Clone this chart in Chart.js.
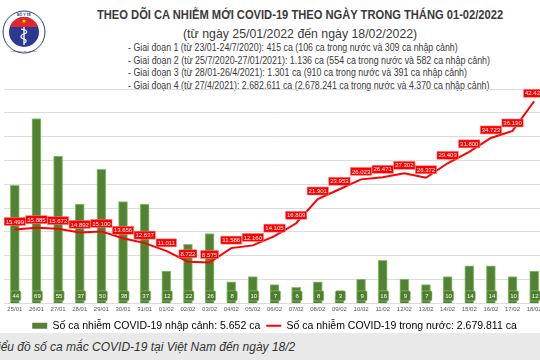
<!DOCTYPE html>
<html>
<head>
<meta charset="utf-8">
<script src="https://cdn.jsdelivr.net/npm/chart.js@4.4.0/dist/chart.umd.min.js"></script>
<style>
html, body { margin: 0; padding: 0; width: 540px; height: 360px; overflow: hidden; background: #fff; font-family: "Liberation Sans", Arial, sans-serif; }
.t { position: absolute; white-space: nowrap; transform-origin: 0 50%; color: #3a3a3a; line-height: 1; }
#cap { position: absolute; left: 0; top: 333px; width: 540px; height: 27px; background: #e9e9e9; }
#wrap { position: absolute; left: -5px; top: 82px; width: 550px; height: 259px; }
#logo { position: absolute; left: 2px; top: 10px; }
</style>
</head>
<body>
<div id="cap"></div>
<svg id="logo" width="44" height="44" viewBox="0 0 44 44">
  <defs><clipPath id="inner"><circle cx="22" cy="22" r="15"/></clipPath></defs>
  <circle cx="22" cy="22" r="21" fill="#fff" stroke="#2d3b8e" stroke-width="1"/>
  <circle cx="22" cy="22" r="15" fill="#2b3990"/>
  <rect x="5" y="5" width="34" height="12" fill="#e3262b" clip-path="url(#inner)"/>
  <circle cx="22" cy="11" r="1.6" fill="#ffd800"/>
  <path d="M22 17 L22 35" stroke="#fff" stroke-width="1.3"/>
  <path d="M19 19 C26 20 26 23 22 24 C18 25 18 28 22 29 C25 30 25 32 22 33" stroke="#fff" stroke-width="1.2" fill="none"/>
  <text x="22" y="5.5" font-size="3.5" text-anchor="middle" fill="#2d3b8e" font-weight="bold">BỘ Y TẾ</text>
  <text x="22" y="41.5" font-size="2.5" text-anchor="middle" fill="#2d3b8e">MINISTRY OF HEALTH</text>
</svg>

<div class="t" data-x1="97" data-x2="503" data-y="15" style="font-weight:bold;font-size:12.5px;">THEO DÕI CA NHIỄM MỚI COVID-19 THEO NGÀY TRONG THÁNG 01-02/2022</div>
<div class="t" data-x1="183" data-x2="417" data-y="33" style="font-size:13px;">(từ ngày 25/01/2022 đến ngày 18/02/2022)</div>
<div class="t" data-x1="128" data-x2="458" data-y="48" style="font-size:10px;">- Giai đoạn 1 (từ 23/01-24/7/2020): 415 ca (106 ca trong nước và 309 ca nhập cảnh)</div>
<div class="t" data-x1="128" data-x2="490" data-y="61" style="font-size:10px;">- Giai đoạn 2 (từ 25/7/2020-27/01/2021): 1.136 ca (554 ca trong nước và 582 ca nhập cảnh)</div>
<div class="t" data-x1="128" data-x2="467" data-y="73" style="font-size:10px;">- Giai đoạn 3 (từ 28/01-26/4/2021): 1.301 ca (910 ca trong nước và 391 ca nhập cảnh)</div>
<div class="t" data-x1="128" data-x2="489" data-y="86" style="font-size:10px;">- Giai đoạn 4 (từ 27/4/2021): 2.682.611 ca (2.678.241 ca trong nước và 4.370 ca nhập cảnh)</div>

<div class="t" id="caption" data-x2="295" data-y="347" style="font-style:italic;font-size:12px;color:#333;">Biểu đồ số ca mắc COVID-19 tại Việt Nam đến ngày 18/2</div>

<div id="wrap"><canvas id="chart"></canvas></div>

<script>
const dates = ['25/01', '26/01', '27/01', '28/01', '29/01', '30/01', '31/01',
  '01/02', '02/02', '03/02', '04/02', '05/02', '06/02', '07/02', '08/02', '09/02',
  '10/02', '11/02', '12/02', '13/02', '14/02', '15/02', '16/02', '17/02', '18/02'];
const importCases = [44, 69, 55, 37, 50, 38, 37, 12, 22, 26, 8, 10, 7, 6, 8, 3, 9, 16, 9, 7, 10, 14, 14, 10, 12];
const domesticCases = [15499, 15885, 15672, 14892, 15100, 13656, 12637, 11011, 8722, 8575, 11586, 12160,
  14105, 16809, 21901, 23953, 26023, 26471, 27302, 26372, 29403, 31800, 34723, 36190, 42424];
const importTotal = '5.652';
const domesticTotal = '2.679.811';

// dat header texty na sirku jako v predloze
document.querySelectorAll('.t').forEach(el => {
  const w = el.offsetWidth, h = el.offsetHeight;
  const yc = +el.dataset.y;
  el.style.top = (yc - h / 2) + 'px';
  if (el.dataset.x1) {
    const x1 = +el.dataset.x1, x2 = +el.dataset.x2;
    el.style.left = x1 + 'px';
    el.style.transform = `scaleX(${(x2 - x1) / w})`;
  } else {
    el.style.left = (+el.dataset.x2 - w) + 'px';
  }
});

function tecky(v) {
  return String(v).replace(/\B(?=(\d{3})+(?!\d))/g, '.');
}

function rrect(ctx, x, y, w, h, r) {
  ctx.beginPath();
  ctx.moveTo(x + r, y);
  ctx.arcTo(x + w, y, x + w, y + h, r);
  ctx.arcTo(x + w, y + h, x, y + h, r);
  ctx.arcTo(x, y + h, x, y, r);
  ctx.arcTo(x, y, x + w, y, r);
  ctx.closePath();
}

const stitky = {
  id: 'stitky',
  afterDatasetsDraw(chart) {
    const ctx = chart.ctx;
    ctx.save();
    ctx.textAlign = 'center';
    ctx.textBaseline = 'middle';

    // zelene stitky dole u sloupcu
    const base = chart.scales.y1.getPixelForValue(0);
    ctx.font = '6px "Liberation Sans"';
    chart.getDatasetMeta(0).data.forEach((el, i) => {
      const w = 10, h = 10;
      const cy = base - 7.5;
      rrect(ctx, el.x - w / 2 + 1, cy - h / 2, w, h, 1.5);
      ctx.fillStyle = '#4f7d2e';
      ctx.fill();
      ctx.strokeStyle = '#8cc474';
      ctx.lineWidth = 0.6;
      ctx.stroke();
      ctx.fillStyle = '#fff';
      ctx.fillText(importCases[i], el.x + 1, cy + 0.5);
    });

    // cervene stitky nad caru
    ctx.font = '6px "Liberation Sans"';
    chart.getDatasetMeta(1).data.forEach((el, i) => {
      const txt = tecky(domesticCases[i]);
      const w = ctx.measureText(txt).width + 3, h = 8;
      const cy = el.y - 8;
      ctx.fillStyle = '#ff0000';
      ctx.fillRect(el.x - w / 2, cy - h / 2, w, h);
      ctx.strokeStyle = '#ff8a8a';
      ctx.lineWidth = 0.5;
      ctx.strokeRect(el.x - w / 2, cy - h / 2, w, h);
      ctx.fillStyle = '#fff';
      ctx.fillText(txt, el.x, cy + 0.5);
    });
    ctx.restore();
  }
};

const data = {
  labels: dates,
  datasets: [{
    type: 'bar',
    label: 'Số ca nhiễm COVID-19 nhập cảnh: ' + importTotal + ' ca',
    data: importCases,
    yAxisID: 'y1',
    backgroundColor: '#548235',
    borderColor: '#86c46e',
    borderWidth: 1,
    barThickness: 9,
    order: 1
  }, {
    type: 'line',
    label: 'Số ca nhiễm COVID-19 trong nước: ' + domesticTotal + ' ca',
    data: domesticCases,
    yAxisID: 'y',
    borderColor: '#ff0000',
    backgroundColor: '#ff0000',
    borderWidth: 2,
    pointRadius: 0,
    tension: 0,
    order: 0
  }]
};

const options = {
  responsive: true,
  maintainAspectRatio: false,
  animation: false,
  layout: { padding: { left: 9, right: 0, top: 7, bottom: 0 } },
  plugins: {
    tooltip: { enabled: false },
    legend: {
      position: 'bottom',
      labels: {
        usePointStyle: true,
        pointStyleWidth: 15,
        boxHeight: 6,
        padding: 6,
        color: '#404040',
        font: { size: 10.5, family: '"Liberation Sans", Arial, sans-serif' },
        generateLabels: () => [
          { text: data.datasets[0].label, fillStyle: '#548235', strokeStyle: '#548235', lineWidth: 0, pointStyle: 'rect', datasetIndex: 0, hidden: false },
          { text: data.datasets[1].label, fillStyle: '#ff0000', strokeStyle: '#ff0000', lineWidth: 2, pointStyle: 'line', datasetIndex: 1, hidden: false }
        ]
      }
    }
  },
  scales: {
    x: {
      offset: true,
      grid: { display: false, drawTicks: false },
      border: { display: false },
      ticks: { font: { size: 6 }, color: '#595959', maxRotation: 0, autoSkip: false, padding: 2 }
    },
    y: {
      position: 'left',
      min: 0,
      max: 45000,
      ticks: { display: false, stepSize: 5000 },
      grid: { color: '#dcdcdc', drawTicks: false },
      border: { display: false }
    },
    y1: { display: false, min: 0, max: 80 }
  }
};

const ctx = document.getElementById('chart').getContext('2d');
const myChart = new Chart(ctx, { data, options, plugins: [stitky] });
</script>
</body>
</html>
